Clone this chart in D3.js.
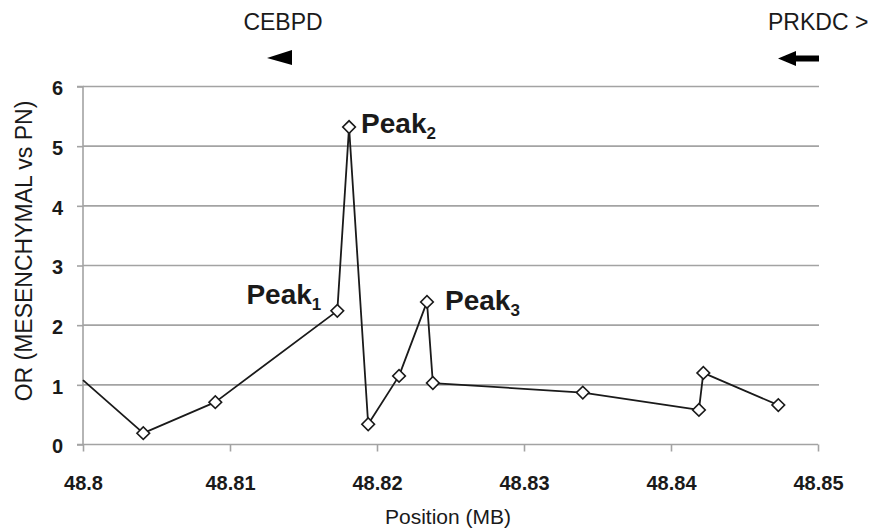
<!DOCTYPE html>
<html>
<head>
<meta charset="utf-8">
<script src="https://d3js.org/d3.v7.min.js"></script>
<style>
  html, body { margin: 0; padding: 0; background: #fff; }
  svg { display: block; }
  text { font-family: "Liberation Sans", Arial, sans-serif; fill: #1a1a1a; }
</style>
</head>
<body>
<svg id="chart" width="878" height="531"></svg>
<script>
// ---- data ----
const positions = [48.8, 48.8041, 48.8090, 48.8173, 48.8181, 48.8194, 48.8215, 48.8234, 48.8238, 48.8340, 48.8419, 48.8422, 48.8473];
const orValues  = [1.08, 0.19, 0.71, 2.24, 5.32, 0.34, 1.15, 2.39, 1.03, 0.87, 0.58, 1.20, 0.66];
const xTicks = [48.8, 48.81, 48.82, 48.83, 48.84, 48.85];
const xTickLabels = ["48.8", "48.81", "48.82", "48.83", "48.84", "48.85"];
const yTicks = [0, 1, 2, 3, 4, 5, 6];
const peakNames = ["Peak", "Peak", "Peak"];
const peakSubs = ["1", "2", "3"];
const peakIndex = [3, 4, 7];
const geneLabels = ["CEBPD", "PRKDC >"];
const xTitle = "Position (MB)";
const yTitle = "OR (MESENCHYMAL vs PN)";

const svg = d3.select("#chart");
const x = d3.scaleLinear().domain([48.8, 48.85]).range([83, 818]);
const y = d3.scaleLinear().domain([0, 6]).range([444.5, 86.5]);

const gridColor = "#a3a3a3";

// gridlines
svg.append("g").selectAll("line").data(yTicks.filter(d => d > 0)).join("line")
  .attr("x1", x(48.8)).attr("x2", x(48.85) + 1)
  .attr("y1", d => y(d)).attr("y2", d => y(d))
  .attr("stroke", gridColor).attr("stroke-width", 1.6);

// y axis
const yAxis = svg.append("g").attr("transform", `translate(${x(48.8)},0)`)
  .call(d3.axisLeft(y).tickValues(yTicks).tickSize(6).tickPadding(14).tickFormat(d3.format("d")));
yAxis.select(".domain").attr("stroke", gridColor).attr("stroke-width", 1.6).attr("d", `M-6,${y(0)}H0V${y(6)}H-6`);
yAxis.selectAll(".tick line").attr("stroke", gridColor).attr("stroke-width", 1.6);
yAxis.selectAll(".tick text").attr("font-size", 20).attr("font-weight", "bold")
  .attr("font-family", "Liberation Sans, Arial, sans-serif").attr("fill", "#1a1a1a").attr("dy", "0.42em");

// x axis
const xAxis = svg.append("g").attr("transform", `translate(0,${y(0)})`)
  .call(d3.axisBottom(x).tickValues(xTicks).tickSize(7).tickPadding(24)
    .tickFormat((d, i) => xTickLabels[i]));
xAxis.select(".domain").attr("stroke", gridColor).attr("stroke-width", 1.6).attr("d", `M${x(48.8)},0H${x(48.85)}`);
xAxis.selectAll(".tick line").attr("stroke", gridColor).attr("stroke-width", 1.6);
xAxis.selectAll(".tick text").attr("font-size", 20).attr("font-weight", "bold")
  .attr("font-family", "Liberation Sans, Arial, sans-serif").attr("fill", "#1a1a1a");

// data
const pts = positions.map((p, i) => ({ p, v: orValues[i] }));
svg.append("path").datum(pts)
  .attr("fill", "none").attr("stroke", "#1a1a1a").attr("stroke-width", 1.8)
  .attr("stroke-linejoin", "round")
  .attr("d", d3.line().x(d => x(d.p)).y(d => y(d.v)));

svg.append("g").selectAll("path").data(pts.filter(d => d.p > 48.8)).join("path")
  .attr("transform", d => `translate(${x(d.p)},${y(d.v)}) rotate(45)`)
  .attr("d", d3.symbol(d3.symbolSquare, 80)())
  .attr("fill", "#fff").attr("stroke", "#1a1a1a").attr("stroke-width", 1.6);

// peak labels
const peakOffsets = [[-16, -7, "end"], [12, 6, "start"], [18, 8, "start"]];
peakIndex.forEach((idx, k) => {
  const [dx, dy, anchor] = peakOffsets[k];
  const t = svg.append("text")
    .attr("x", x(positions[idx]) + dx).attr("y", y(orValues[idx]) + dy)
    .attr("text-anchor", anchor).attr("font-size", 28).attr("font-weight", "bold");
  t.append("tspan").text(peakNames[k]);
  t.append("tspan").attr("font-size", 17).attr("dy", 6).text(peakSubs[k]);
});

// gene labels
svg.append("text").attr("x", 283).attr("y", 30).attr("text-anchor", "middle")
  .attr("font-size", 23).text(geneLabels[0]);
svg.append("text").attr("x", 768).attr("y", 30).attr("text-anchor", "start")
  .attr("font-size", 23).text(geneLabels[1]);

// arrows
svg.append("path").attr("d", "M267,58L292,50L292,65Z").attr("fill", "#000");
svg.append("path").attr("d", "M778,58.5L796,51L796,55.5L819,55.5L819,61.5L796,61.5L796,66Z").attr("fill", "#000");

// axis titles
svg.append("text").attr("x", 448).attr("y", 524).attr("text-anchor", "middle")
  .attr("font-size", 21).text(xTitle);
svg.append("text").attr("transform", "translate(32,251) rotate(-90)").attr("text-anchor", "middle")
  .attr("font-size", 23).text(yTitle);
</script>
</body>
</html>
